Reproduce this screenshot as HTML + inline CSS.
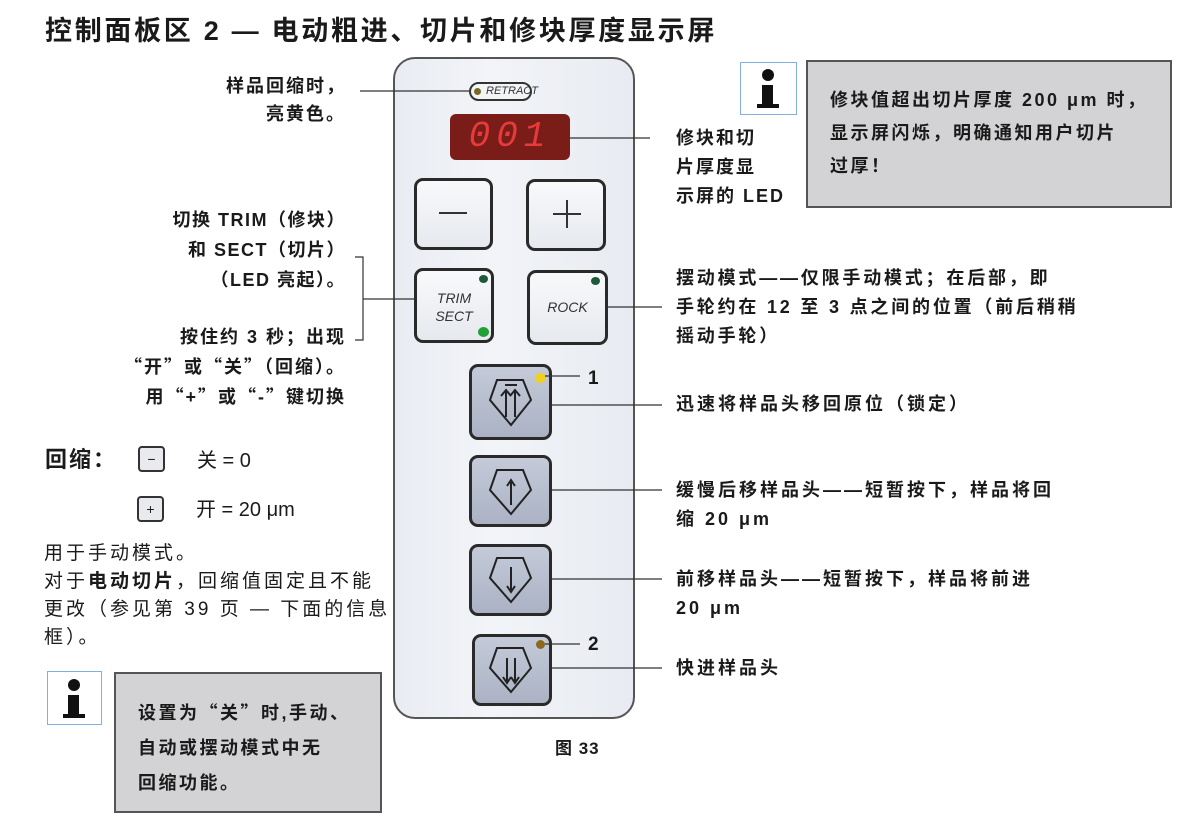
<!DOCTYPE html>
<html><head><meta charset="utf-8"><style>
body{margin:0;width:1191px;height:828px;background:#fff;position:relative;overflow:hidden;font-family:"Liberation Sans","Noto Sans CJK SC",sans-serif;color:#1a1a1a}
.a{position:absolute}
.t{position:absolute;font-weight:bold;font-size:18px;line-height:29px;letter-spacing:2px;white-space:nowrap}
.q{font-family:"Noto Sans CJK SC",sans-serif}
.r{text-align:right}
.btn{position:absolute;border:3px solid #2a2a2a;border-radius:9px;background:linear-gradient(#f8f9fb,#e6e9ee);box-sizing:border-box}
.bb{position:absolute;border:3px solid #2a2a2a;border-radius:9px;background:linear-gradient(#c4cad8,#aab2c4);box-sizing:border-box}
.info{position:absolute;border:1px solid #7fb0e0;background:#fff;box-sizing:border-box}
.gbox{position:absolute;border:2px solid #555;background:#d3d3d5;box-sizing:border-box}
</style></head><body>
<div class="t" style="left:45px;top:14px;font-size:27px;line-height:34px;letter-spacing:2.7px">控制面板区 2 — 电动粗进、切片和修块厚度显示屏</div>

<div class="a" style="left:393px;top:57px;width:242px;height:662px;border:2px solid #555;border-radius:22px;background:linear-gradient(90deg,#e9ecf2,#f2f4f8 40%,#e8ebf1);box-sizing:border-box"></div>
<div class="a" style="left:469px;top:82px;width:63px;height:19px;border:2px solid #333;border-radius:10px;box-sizing:border-box;background:#f3f4f6;font-size:11px;font-style:italic;line-height:15px;padding-left:15px;color:#333">RETRACT</div>
<div class="a" style="left:474px;top:88px;width:7px;height:7px;border-radius:50%;background:#7a6a20"></div>
<div class="a" style="left:450px;top:114px;width:120px;height:46px;border-radius:6px;background:#7a1d18;color:#e83a3a;font-size:36px;font-style:italic;line-height:46px;text-align:center;letter-spacing:6px;font-family:'Liberation Mono',monospace">001</div>
<div class="btn" style="left:414px;top:178px;width:79px;height:72px"></div>
<div class="a" style="left:439px;top:212px;width:28px;height:2px;background:#333"></div>
<div class="btn" style="left:526px;top:179px;width:80px;height:72px"></div>
<div class="a" style="left:553px;top:213px;width:28px;height:2px;background:#333"></div>
<div class="a" style="left:566px;top:200px;width:2px;height:28px;background:#333"></div>
<div class="btn" style="left:414px;top:268px;width:80px;height:75px;text-align:center;font-size:14px;font-style:italic;line-height:18px;padding-top:18px;color:#333">TRIM<br>SECT</div>
<div class="a" style="left:479px;top:275px;width:9px;height:8px;border-radius:50%;background:#1e5a3a"></div>
<div class="a" style="left:478px;top:327px;width:11px;height:10px;border-radius:50%;background:#22a036"></div>
<div class="btn" style="left:527px;top:270px;width:81px;height:75px;text-align:center;font-size:14px;font-style:italic;line-height:69px;color:#333">ROCK</div>
<div class="a" style="left:591px;top:277px;width:9px;height:8px;border-radius:50%;background:#1e5a3a"></div>

<div class="bb" style="left:469px;top:364px;width:83px;height:76px"></div>
<div class="bb" style="left:469px;top:455px;width:83px;height:72px"></div>
<div class="bb" style="left:469px;top:544px;width:83px;height:72px"></div>
<div class="bb" style="left:472px;top:634px;width:80px;height:72px"></div>
<div class="a" style="left:535px;top:373px;width:11px;height:10px;border-radius:50%;background:#f0d020"></div>
<div class="a" style="left:536px;top:640px;width:9px;height:9px;border-radius:50%;background:#8a6a20"></div>
<svg class="a" style="left:0;top:0" width="1191" height="828">
<g fill="none" stroke="#222" stroke-width="2">
<path d="M497 380 L523 380 L531 400 L511 425 L490 400 Z"/>
<path d="M505 385h12"/><path d="M506 417V390M501 396l5-6 5 6M515 417V390M510 396l5-6 5 6"/>
<path d="M497 470 L523 470 L531 490 L511 514 L490 490 Z"/><path d="M511 505V480M507 486l4-6 4 6"/>
<path d="M497 558 L523 558 L531 578 L511 602 L490 578 Z"/><path d="M511 567V592M507 586l4 6 4-6"/>
<path d="M497 648 L523 648 L531 668 L511 692 L490 668 Z"/><path d="M507 658V683M503 677l4 6 4-6M515 658V683M511 677l4 6 4-6"/>
</g>
<g stroke="#333" stroke-width="1.2">
<line x1="360" y1="91" x2="470" y2="91"/>
<line x1="570" y1="138" x2="650" y2="138"/>
<polyline fill="none" points="355,257 363,257 363,340 355,340"/>
<line x1="363" y1="299" x2="415" y2="299"/>
<line x1="608" y1="307" x2="662" y2="307"/>
<line x1="545" y1="376" x2="580" y2="376"/>
<line x1="552" y1="405" x2="662" y2="405"/>
<line x1="552" y1="490" x2="662" y2="490"/>
<line x1="552" y1="579" x2="662" y2="579"/>
<line x1="545" y1="644" x2="580" y2="644"/>
<line x1="552" y1="668" x2="662" y2="668"/>
</g>
</svg>
<div class="t" style="left:588px;top:364px;font-size:19px">1</div>
<div class="t" style="left:588px;top:630px;font-size:19px">2</div>
<div class="t" style="left:555px;top:734px;font-size:17px;letter-spacing:1px">图 33</div>

<div class="t r" style="left:150px;width:196px;top:72px;line-height:28px">样品回缩时，<br>亮黄色。</div>
<div class="t r" style="left:80px;width:266px;top:205px;line-height:30px;letter-spacing:1.5px">切换 TRIM（修块）<br>和 SECT（切片）<br>（LED 亮起）。</div>
<div class="t r" style="left:20px;width:326px;top:323px;line-height:29px;letter-spacing:2px">按住约 3 秒；出现<br><span class="q">“</span>开<span class="q">”</span>或<span class="q">“</span>关<span class="q">”</span>（回缩）。<br>用<span class="q">“</span>+<span class="q">”</span>或<span class="q">“</span>-<span class="q">”</span>键切换</div>

<div class="t" style="left:45px;top:444px;font-size:22px;line-height:32px">回缩：</div>
<div class="a" style="left:138px;top:446px;width:27px;height:26px;border:2px solid #333;border-radius:4px;box-sizing:border-box;background:#e8eaee;text-align:center;font-size:14px;line-height:22px">−</div>
<div class="a" style="left:137px;top:496px;width:27px;height:26px;border:2px solid #333;border-radius:4px;box-sizing:border-box;background:#e8eaee;text-align:center;font-size:14px;line-height:22px">+</div>
<div class="a" style="left:197px;top:446px;font-size:20px;line-height:30px">关 = 0</div>
<div class="a" style="left:196px;top:495px;font-size:20px;line-height:30px">开 = 20 μm</div>
<div class="a" style="left:44px;top:540px;font-size:19px;line-height:28px;letter-spacing:3px;white-space:nowrap">用于手动模式。<br>对于<b>电动切片</b>，回缩值固定且不能<br>更改（参见第 39 页 — 下面的信息<br>框）。</div>

<div class="info" style="left:47px;top:671px;width:55px;height:54px"></div>
<div class="a" style="left:68px;top:679px;width:12px;height:12px;border-radius:50%;background:#111"></div>
<div class="a" style="left:68px;top:695px;width:11px;height:22px;background:#111"></div>
<div class="a" style="left:63px;top:714px;width:22px;height:4px;background:#111"></div>
<div class="gbox" style="left:114px;top:672px;width:268px;height:141px"></div>
<div class="t" style="left:138px;top:695px;line-height:35px;letter-spacing:2.5px">设置为<span class="q">“</span>关<span class="q">”</span>时,手动、<br>自动或摆动模式中无<br>回缩功能。</div>

<div class="t" style="left:676px;top:124px;line-height:29px;letter-spacing:2px">修块和切<br>片厚度显<br>示屏的 LED</div>
<div class="info" style="left:740px;top:62px;width:57px;height:53px"></div>
<div class="a" style="left:762px;top:69px;width:12px;height:12px;border-radius:50%;background:#111"></div>
<div class="a" style="left:762px;top:85px;width:11px;height:22px;background:#111"></div>
<div class="a" style="left:757px;top:104px;width:22px;height:4px;background:#111"></div>
<div class="gbox" style="left:806px;top:60px;width:366px;height:148px"></div>
<div class="t" style="left:830px;top:84px;line-height:33px;letter-spacing:2.5px">修块值超出切片厚度 200 μm 时，<br>显示屏闪烁，明确通知用户切片<br>过厚！</div>

<div class="t" style="left:676px;top:264px;line-height:29px;letter-spacing:2.8px">摆动模式——仅限手动模式；在后部，即<br>手轮约在 12 至 3 点之间的位置（前后稍稍<br>摇动手轮）</div>
<div class="t" style="left:676px;top:390px;letter-spacing:3px">迅速将样品头移回原位（锁定）</div>
<div class="t" style="left:676px;top:476px;line-height:29px;letter-spacing:3px">缓慢后移样品头——短暂按下，样品将回<br>缩 20 μm</div>
<div class="t" style="left:676px;top:565px;line-height:29px;letter-spacing:3px">前移样品头——短暂按下，样品将前进<br>20 μm</div>
<div class="t" style="left:676px;top:654px;letter-spacing:3px">快进样品头</div>
</body></html>
